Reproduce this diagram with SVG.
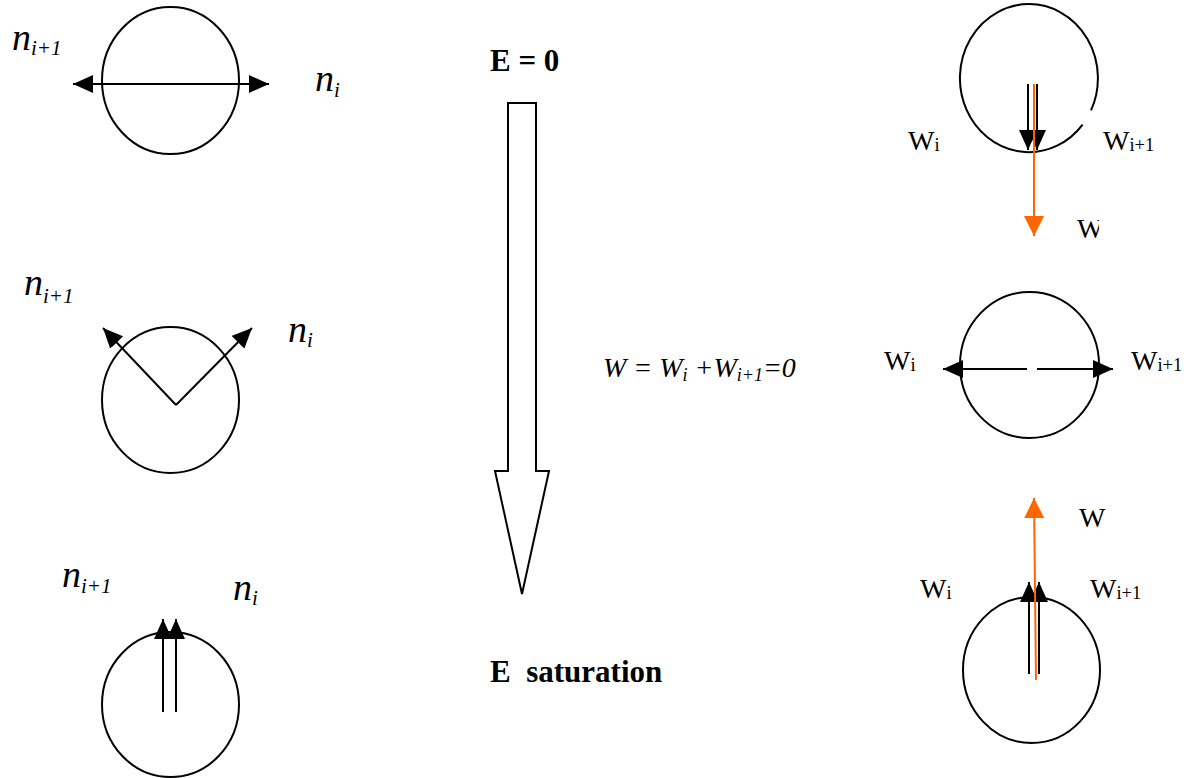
<svg xmlns="http://www.w3.org/2000/svg" width="1197" height="778" viewBox="0 0 1197 778">
<style>
.c{fill:none;stroke:#000;stroke-width:2}
.ln{fill:none;stroke:#000;stroke-width:2}
.or{fill:none;stroke:#FF6600;stroke-width:2}
.n{font-family:"Liberation Serif","DejaVu Serif",serif;font-style:italic;font-size:38px;fill:#000}
.ns{font-size:21px}
.w{font-family:"Liberation Serif","DejaVu Serif",serif;font-size:28px;fill:#000}
.ws{font-size:18.5px}
.b{font-family:"Liberation Serif","DejaVu Serif",serif;font-weight:700;font-size:31px;fill:#000}
.eq{font-family:"Liberation Serif","DejaVu Serif",serif;font-style:italic;font-size:28px;fill:#000}
.eqs{font-size:18px}
</style>
<defs>
<marker id="ah" markerUnits="userSpaceOnUse" markerWidth="20" markerHeight="18" refX="20" refY="9" orient="auto-start-reverse" viewBox="0 0 20 18">
<path d="M0,0 L20,9 L0,18 Z" fill="#000"/>
</marker>
<marker id="ao" markerUnits="userSpaceOnUse" markerWidth="20" markerHeight="20" refX="20" refY="10" orient="auto" viewBox="0 0 20 20">
<path d="M0,0 L20,10 L0,20 Z" fill="#FF6600"/>
</marker>
<clipPath id="clipW"><rect x="1060" y="200" width="39" height="50"/></clipPath>
</defs>

<g id="node-left-1">
<ellipse class="c" cx="170.5" cy="80.5" rx="68.5" ry="73.5"/>
<text class="n" x="12" y="50">n<tspan class="ns" dy="5">i+1</tspan></text>
<text class="n" x="315" y="91">n<tspan class="ns" dy="6">i</tspan></text>
</g>
<g id="node-left-2">
<ellipse class="c" cx="170.5" cy="400" rx="68.5" ry="73"/>
<text class="n" x="24" y="295">n<tspan class="ns" dy="8">i+1</tspan></text>
<text class="n" x="288" y="342">n<tspan class="ns" dy="5">i</tspan></text>
</g>
<g id="node-left-3">
<ellipse class="c" cx="170.5" cy="704.5" rx="68.5" ry="72.5"/>
<text class="n" x="62" y="587">n<tspan class="ns" dy="6">i+1</tspan></text>
<text class="n" x="233" y="600">n<tspan class="ns" dy="5">i</tspan></text>
</g>

<g id="node-center">
<text class="b" x="490" y="71">E = 0</text>
<polygon points="508,103 536,103 536,471 549,471 522,594 495,471 508,471" fill="#fff" stroke="#000" stroke-width="2"/>
<text class="b" x="490" y="682" xml:space="preserve">E  saturation</text>
<text class="eq" x="603" y="377">W = W<tspan class="eqs" dy="4">i</tspan><tspan dy="-4"> +W</tspan><tspan class="eqs" dy="4">i+1</tspan><tspan dy="-4">=0</tspan></text>
</g>

<g id="node-right-1">
<path class="c" d="M1082.6,124.6 A69,74 0 1 1 1091,110.4"/>
<text class="w" x="908" y="150">W<tspan class="ws" dy="1">i</tspan></text>
<text class="w" x="1103" y="150">W<tspan class="ws" dy="1">i+1</tspan></text>
<text class="w" x="1077" y="238" clip-path="url(#clipW)">W</text>
</g>
<g id="node-right-2">
<ellipse class="c" cx="1029.5" cy="365" rx="69.5" ry="73"/>
<text class="w" x="884" y="370">W<tspan class="ws" dy="1">i</tspan></text>
<text class="w" x="1131" y="370">W<tspan class="ws" dy="1">i+1</tspan></text>
</g>
<g id="node-right-3">
<ellipse class="c" cx="1031.5" cy="670" rx="68.5" ry="73"/>
<text class="w" x="1079" y="527">W</text>
<text class="w" x="920" y="598">W<tspan class="ws" dy="1">i</tspan></text>
<text class="w" x="1090" y="598">W<tspan class="ws" dy="1">i+1</tspan></text>
</g>

<g id="connectors">
<line class="ln" x1="73" y1="84" x2="269" y2="84" marker-start="url(#ah)" marker-end="url(#ah)"/>
<line class="ln" x1="176" y1="405" x2="103" y2="328" marker-end="url(#ah)"/>
<line class="ln" x1="176" y1="405" x2="252" y2="328" marker-end="url(#ah)"/>
<line class="ln" x1="163" y1="712" x2="163" y2="619" marker-end="url(#ah)"/>
<line class="ln" x1="176" y1="712" x2="176" y2="619" marker-end="url(#ah)"/>
<line class="ln" x1="1028" y1="84" x2="1028" y2="150" marker-end="url(#ah)"/>
<line class="ln" x1="1037" y1="84" x2="1037" y2="150" marker-end="url(#ah)"/>
<line class="or" x1="1034" y1="84" x2="1034" y2="236" marker-end="url(#ao)"/>
<line class="ln" x1="1027" y1="369" x2="943" y2="369" marker-end="url(#ah)"/>
<line class="ln" x1="1037" y1="369" x2="1113" y2="369" marker-end="url(#ah)"/>
<line class="ln" x1="1029" y1="674" x2="1029" y2="582" marker-end="url(#ah)"/>
<line class="ln" x1="1039" y1="674" x2="1039" y2="582" marker-end="url(#ah)"/>
<line class="or" x1="1036" y1="680" x2="1034" y2="498" marker-end="url(#ao)"/>
</g>
</svg>
